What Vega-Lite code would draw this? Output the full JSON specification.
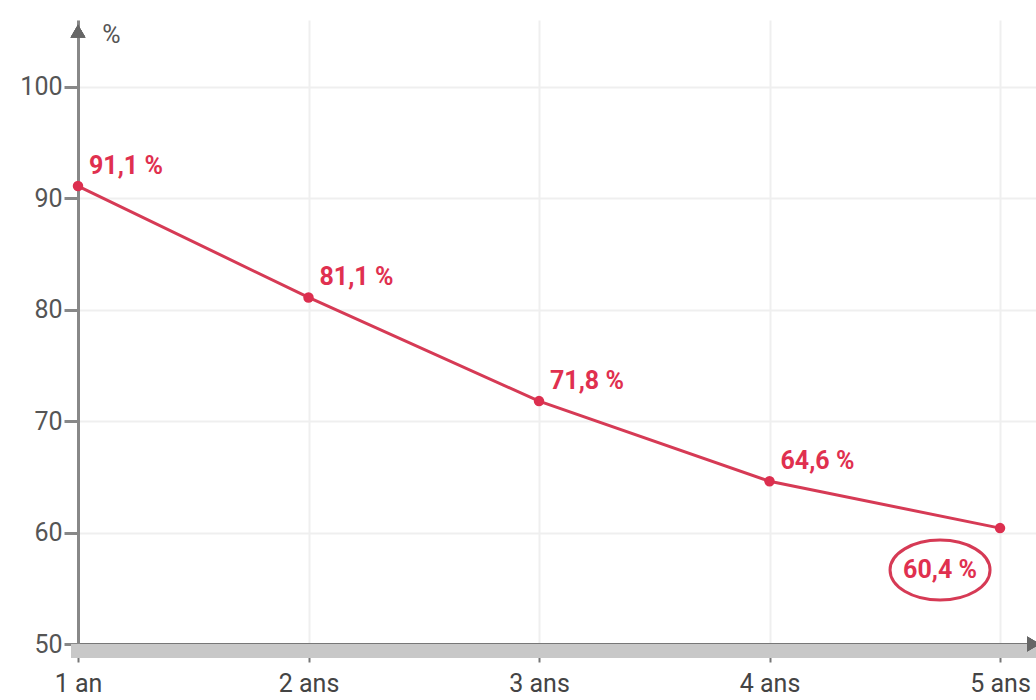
{
  "$schema": "https://vega.github.io/schema/vega-lite/v6.json",
  "autosize": {"type": "none"},
  "padding": {"left": 78, "top": 20, "right": 0, "bottom": 56},
  "width": 958,
  "height": 624,
  "background": "#ffffff",
  "config": {
    "view": {"stroke": null},
    "font": "Roboto, sans-serif"
  },
  "data": {
    "values": [
      {"annee": 1, "taux": 91.1, "label": "91,1 %"},
      {"annee": 2, "taux": 81.1, "label": "81,1 %"},
      {"annee": 3, "taux": 71.8, "label": "71,8 %"},
      {"annee": 4, "taux": 64.6, "label": "64,6 %"},
      {"annee": 5, "taux": 60.4, "label": "60,4 %"}
    ]
  },
  "layer": [
    {
      "mark": {"type": "rect", "fill": "#c8c8c8", "clip": false},
      "encoding": {
        "x": {"datum": 0.97, "type": "quantitative", "scale": {"domain": [1, 5.156], "nice": false, "zero": false}},
        "x2": {"datum": 5.156},
        "y": {"datum": 50, "type": "quantitative", "scale": {"domain": [50, 106], "nice": false, "zero": false}},
        "y2": {"datum": 48.74}
      }
    },
    {
      "mark": {"type": "line", "color": "#d63a55", "strokeWidth": 3},
      "encoding": {
        "x": {
          "field": "annee", "type": "quantitative",
          "scale": {"domain": [1, 5.156], "nice": false, "zero": false},
          "axis": {
            "values": [1, 2, 3, 4, 5],
            "labelExpr": "datum.value == 1 ? '1 an' : datum.value + ' ans'",
            "title": null,
            "domainColor": "#777777", "domainWidth": 3,
            "tickColor": "#777777", "tickWidth": 2, "tickSize": 18,
            "labelFontSize": 25, "labelColor": "#444444", "labelPadding": 9,
            "labelFlush": false, "labelOverlap": false,
            "grid": true, "gridColor": "#efefef", "gridWidth": 2
          }
        },
        "y": {
          "field": "taux", "type": "quantitative",
          "scale": {"domain": [50, 106], "nice": false, "zero": false},
          "axis": {
            "values": [50, 60, 70, 80, 90, 100],
            "title": "%", "titleAngle": 0, "titleX": 33, "titleY": 14,
            "titleAlign": "center", "titleBaseline": "middle",
            "titleFontSize": 25, "titleFontWeight": "normal", "titleColor": "#555555",
            "domainColor": "#888888", "domainWidth": 3,
            "tickColor": "#888888", "tickWidth": 3, "tickSize": 14,
            "labelFontSize": 25, "labelColor": "#555555", "labelPadding": 2,
            "labelFlush": false, "labelOverlap": false,
            "grid": true, "gridColor": "#efefef", "gridWidth": 2
          }
        }
      }
    },
    {
      "mark": {"type": "point", "filled": true, "color": "#dc2f4f", "size": 110, "opacity": 1},
      "encoding": {
        "x": {"field": "annee", "type": "quantitative"},
        "y": {"field": "taux", "type": "quantitative"}
      }
    },
    {
      "transform": [{"filter": "datum.annee < 5"}],
      "mark": {"type": "text", "align": "left", "baseline": "middle", "dx": 11, "dy": -20, "fontSize": 25, "fontWeight": "bold", "color": "#e0304f"},
      "encoding": {
        "x": {"field": "annee", "type": "quantitative"},
        "y": {"field": "taux", "type": "quantitative"},
        "text": {"field": "label"}
      }
    },
    {
      "transform": [{"filter": "datum.annee == 5"}],
      "mark": {"type": "text", "align": "center", "baseline": "middle", "dx": -60, "dy": 42, "fontSize": 25, "fontWeight": "bold", "color": "#e0304f"},
      "encoding": {
        "x": {"field": "annee", "type": "quantitative"},
        "y": {"field": "taux", "type": "quantitative"},
        "text": {"field": "label"}
      }
    },
    {
      "transform": [{"filter": "datum.annee == 5"}],
      "mark": {
        "type": "point",
        "shape": "M -1 0 A 1 0.6 0 1 1 1 0 A 1 0.6 0 1 1 -1 0 Z",
        "filled": false, "stroke": "#d63a55", "strokeWidth": 3,
        "size": 10000, "xOffset": -60, "yOffset": 42, "opacity": 1
      },
      "encoding": {
        "x": {"field": "annee", "type": "quantitative"},
        "y": {"field": "taux", "type": "quantitative"}
      }
    },
    {
      "mark": {"type": "point", "shape": "triangle-up", "filled": true, "color": "#666666", "size": 220, "opacity": 1, "clip": false},
      "encoding": {
        "x": {"datum": 1, "type": "quantitative"},
        "y": {"datum": 105, "type": "quantitative"}
      }
    },
    {
      "mark": {"type": "point", "shape": "triangle-right", "filled": true, "color": "#666666", "size": 220, "opacity": 1, "clip": false},
      "encoding": {
        "x": {"datum": 5.145, "type": "quantitative"},
        "y": {"datum": 50, "type": "quantitative"}
      }
    }
  ]
}
